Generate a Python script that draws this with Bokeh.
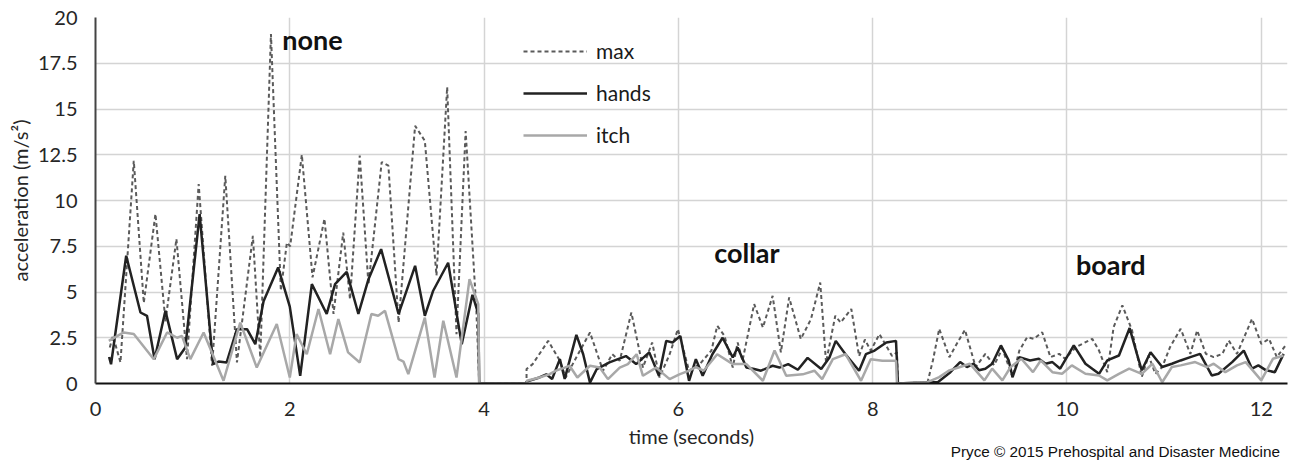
from bokeh.plotting import figure
from bokeh.models import Legend, LegendItem, FixedTicker, Label, Range1d, Div
from bokeh.layouts import column
from bokeh.embed import file_html
from bokeh.resources import INLINE

# ---- data ----
t_max = [0.147, 0.18, 0.257, 0.394, 0.497, 0.617, 0.72, 0.833, 0.942, 1.062, 1.2, 1.336, 1.456, 1.62, 1.696,
         1.806, 1.908, 1.97, 2.004, 2.124, 2.234, 2.357, 2.45, 2.55, 2.62, 2.72, 2.81, 2.946, 3.015, 3.12,
         3.29, 3.39, 3.51, 3.62, 3.716, 3.81, 3.92, 3.95, 4.437,
         4.437, 4.5, 4.66, 4.78, 4.84, 4.93, 5.09, 5.224, 5.32, 5.396, 5.516, 5.635, 5.73, 5.806, 5.91,
         5.995, 6.11, 6.22, 6.34, 6.4, 6.475, 6.56, 6.61, 6.66, 6.78, 6.87, 6.97, 7.055, 7.14, 7.26, 7.365,
         7.46, 7.52, 7.615, 7.67, 7.78, 7.86, 7.92, 7.98, 8.07, 8.2, 8.25, 8.26, 8.565,
         8.62, 8.685, 8.79, 8.856, 8.95, 9.06, 9.16, 9.25, 9.335, 9.44, 9.51, 9.59, 9.66, 9.745, 9.83,
         9.92, 9.98, 10.09, 10.16, 10.26, 10.33, 10.415, 10.48, 10.57, 10.67, 10.77, 10.84, 10.91, 10.98,
         11.06, 11.17, 11.27, 11.34, 11.43, 11.51, 11.6, 11.665, 11.75, 11.905, 12.0, 12.08, 12.16, 12.25]
v_max = [1.97, 2.6, 1.15, 12.17, 4.4, 9.26, 3.4, 7.9, 1.33, 10.9, 0.97, 11.35, 1.15, 8.07, 1.42,
         19.1, 5.07, 7.7, 7.5, 12.5, 5.8, 9.0, 3.8, 8.25, 4.6, 12.45, 5.4, 12.1, 11.9, 3.33,
         14.08, 13.26, 5.9, 16.2, 2.7, 13.8, 4.07, 0.0, 0.0,
         0.79, 1.06, 2.33, 1.24, 0.33, 1.24, 2.79, 0.7, 1.6, 1.24, 3.88, 0.87, 2.24, 0.33, 1.6,
         2.97, 0.7, 1.06, 1.8, 3.15, 2.6, 0.87, 2.24, 1.24, 4.34, 3.06, 4.79, 1.7, 4.7, 2.43, 3.52,
         5.52, 1.15, 3.7, 3.33, 4.07, 1.5, 2.4, 1.8, 2.7, 1.5, 1.7, 0.0, 0.07,
         1.26, 2.99, 1.44, 2.08, 2.93, 0.9, 1.62, 1.0, 1.9, 0.35, 1.8, 2.53, 2.44, 2.8, 1.44,
         1.62, 1.35, 1.98, 2.17, 2.44, 1.8, 0.62, 3.08, 4.27, 2.9, 0.35, 1.53, 0.53, 0.9,
         1.98, 2.99, 1.62, 2.9, 1.62, 1.44, 1.62, 2.35, 1.62, 3.53, 2.17, 2.44, 1.44, 2.08]

t_hands = [0.14, 0.16, 0.316, 0.463, 0.53, 0.608, 0.72, 0.84, 0.925, 1.072, 1.21, 1.267, 1.35, 1.456, 1.56,
           1.645, 1.73, 1.88, 2.0, 2.107, 2.227, 2.38, 2.466, 2.586, 2.706, 2.81, 2.94, 3.12, 3.29, 3.39,
           3.476, 3.63, 3.77, 3.88, 3.94, 3.95, 4.437,
           4.437, 4.57, 4.64, 4.70, 4.78, 4.83, 4.95, 5.02, 5.09, 5.16, 5.29, 5.46, 5.565, 5.70, 5.80,
           5.875, 5.94, 6.02, 6.11, 6.18, 6.25, 6.35, 6.455, 6.56, 6.61, 6.70, 6.78, 6.85, 6.97, 7.04,
           7.13, 7.23, 7.33, 7.47, 7.555, 7.62, 7.72, 7.86, 7.93, 8.02, 8.14, 8.24, 8.26, 8.565,
           8.67, 8.80, 8.90, 8.97, 9.04, 9.095, 9.16, 9.23, 9.32, 9.40, 9.44, 9.51, 9.62, 9.71, 9.78,
           9.85, 9.93, 10.07, 10.19, 10.33, 10.415, 10.535, 10.645, 10.72, 10.77, 10.86, 10.98, 11.08,
           11.17, 11.27, 11.37, 11.49, 11.56, 11.7, 11.82, 11.905, 11.97, 12.05, 12.14, 12.23]
v_hands = [1.45, 1.05, 6.98, 3.88, 3.7, 1.33, 3.97, 1.33, 1.97, 9.26, 1.06, 1.2, 1.15, 2.97, 2.97,
           2.15, 4.5, 6.34, 4.2, 0.42, 5.43, 3.8, 5.43, 6.1, 3.8, 5.7, 7.34, 3.8, 6.43, 3.7,
           5.07, 6.6, 2.15, 4.85, 3.8, 0.0, 0.0,
           0.1, 0.33, 0.5, 0.25, 1.33, 0.25, 2.66, 1.6, 0.05, 0.79, 1.15, 1.5, 1.06, 1.7, 0.42,
           2.33, 2.24, 2.6, 0.15, 1.33, 0.42, 1.6, 2.5, 1.42, 1.97, 0.87, 0.79, 0.7, 0.97, 0.87,
           1.06, 0.75, 1.4, 0.79, 1.42, 2.33, 1.6, 0.7, 1.6, 1.8, 2.24, 2.33, 0.0, 0.07,
           0.07, 0.62, 1.17, 0.9, 1.08, 0.72, 0.81, 1.08, 2.08, 1.26, 0.35, 1.44, 1.26, 1.35, 1.08,
           1.17, 0.81, 2.08, 1.08, 0.53, 1.26, 1.53, 3.03, 1.62, 0.72, 1.71, 0.9, 1.08,
           1.26, 1.44, 1.62, 0.44, 0.53, 1.17, 1.8, 0.81, 0.99, 0.72, 0.62, 1.62]

t_itch = [0.137, 0.29, 0.394, 0.6, 0.737, 0.84, 0.89, 0.976, 1.113, 1.318, 1.49, 1.66, 1.866, 2.0, 2.07,
          2.175, 2.295, 2.415, 2.5, 2.6, 2.72, 2.84, 2.91, 2.98, 3.12, 3.17, 3.22, 3.39, 3.49, 3.58,
          3.716, 3.85, 3.94, 3.95, 4.44,
          4.44, 4.57, 4.67, 4.74, 4.83, 4.88, 4.96, 5.09, 5.19, 5.275, 5.396, 5.48, 5.57, 5.635, 5.77,
          5.91, 6.01, 6.11, 6.18, 6.26, 6.4, 6.56, 6.70, 6.87, 6.99, 7.11, 7.28, 7.40, 7.48, 7.59,
          7.72, 7.88, 7.98, 8.1, 8.24, 8.25, 8.565,
          8.685, 8.79, 8.90, 9.0, 9.06, 9.15, 9.23, 9.335, 9.42, 9.53, 9.65, 9.73, 9.85, 9.95, 10.05,
          10.19, 10.33, 10.415, 10.535, 10.64, 10.77, 10.88, 10.98, 11.08, 11.17, 11.32, 11.44, 11.51,
          11.63, 11.75, 11.84, 12.0, 12.12, 12.23]
v_itch = [2.33, 2.79, 2.7, 1.33, 2.79, 2.5, 2.6, 1.33, 2.79, 0.15, 3.33, 0.87, 3.25, 0.33, 2.7,
          1.6, 4.07, 1.6, 3.52, 1.7, 1.15, 3.8, 3.7, 3.97, 1.33, 1.2, 0.51, 3.6, 0.33, 3.43,
          0.33, 5.7, 4.34, 0.0, 0.0,
          0.15, 0.33, 0.5, 0.7, 0.87, 0.97, 0.33, 0.97, 0.87, 0.24, 0.87, 1.06, 1.6, 0.42, 0.87,
          0.24, 0.5, 0.7, 0.9, 0.7, 1.6, 1.06, 1.06, 0.15, 1.8, 0.42, 0.5, 0.7, 0.24, 1.33,
          1.6, 0.15, 1.33, 1.24, 1.24, 0.0, 0.07,
          0.35, 0.72, 0.9, 1.08, 0.72, 0.17, 0.81, 0.17, 0.9, 1.35, 0.62, 1.26, 0.62, 0.53, 0.99,
          0.53, 0.44, 0.17, 0.53, 0.81, 0.53, 1.08, 0.07, 0.9, 0.99, 1.17, 0.9, 1.08,
          0.62, 0.99, 1.17, 0.17, 1.35, 1.53]

x_ticks = [0, 2, 4, 6, 8, 10, 12]
y_ticks = [0, 2.5, 5, 7.5, 10, 12.5, 15, 17.5, 20]
y_tick_labels = ["0", "2.5", "5", "7.5", "10", "12.5", "15", "17.5", "20"]

phase_names = ["none", "collar", "board"]
phase_x = [2.234, 6.705, 10.45]
phase_y = [18.78, 7.17, 6.5]

FONT = "Lato"

p = figure(width=1297, height=465, x_range=Range1d(0, 12.27), y_range=Range1d(0, 20),
           output_backend="svg", toolbar_location=None,
           min_border_left=95, min_border_right=10, min_border_top=17, min_border_bottom=82)
p.outline_line_color = None
p.background_fill_color = "white"

# grids
p.xgrid.ticker = FixedTicker(ticks=x_ticks)
p.ygrid.ticker = FixedTicker(ticks=y_ticks)
for g in (p.xgrid, p.ygrid):
    g.grid_line_color = "#d4d4d4"
    g.grid_line_width = 1.5

# axes
xa = p.xaxis[0]
xa.ticker = FixedTicker(ticks=x_ticks)
xa.axis_label = "time (seconds)"
ya = p.yaxis[0]
ya.ticker = FixedTicker(ticks=y_ticks)
ya.major_label_overrides = {k: v for k, v in zip(y_ticks, y_tick_labels)}
ya.axis_label = "acceleration (m/s²)"
for ax in (xa, ya):
    ax.major_tick_line_color = None
    ax.minor_tick_line_color = None
    ax.major_label_text_font = FONT
    ax.major_label_text_color = "#262626"
    ax.major_label_text_font_size = "20px"
    ax.axis_label_text_font = FONT
    ax.axis_label_text_font_size = "20px"
    ax.axis_label_text_font_style = "normal"
    ax.axis_label_text_color = "#262626"
    ax.axis_line_width = 2
xa.axis_line_color = "#111111"
ya.axis_line_color = "#444444"
xa.major_label_standoff = 12
xa.axis_label_standoff = 5
ya.major_label_standoff = 12
ya.axis_label_standoff = 3

# series
r_max = p.line(t_max, v_max, line_color="#5a5a5a", line_width=2, line_dash="4 3")
r_hands = p.line(t_hands, v_hands, line_color="#222222", line_width=2.5)
r_itch = p.line(t_itch, v_itch, line_color="#a8a8a8", line_width=2.5)

# phase labels
for name, x, y in zip(phase_names, phase_x, phase_y):
    p.add_layout(Label(x=x, y=y, text=name, text_font=FONT, text_font_size="27px",
                       text_font_style="bold", text_align="center", text_baseline="middle",
                       text_color="#111111"))

legend = Legend(items=[LegendItem(label="max", renderers=[r_max]),
                       LegendItem(label="hands", renderers=[r_hands]),
                       LegendItem(label="itch", renderers=[r_itch])],
                location=(428, 236), orientation="vertical",
                padding=0, margin=0, spacing=17,
                glyph_width=64, glyph_height=24, label_height=24, label_standoff=9,
                label_text_font=FONT, label_text_font_size="21px", label_text_color="#1a1a1a",
                background_fill_alpha=0, border_line_alpha=0)
p.add_layout(legend)

credit = Div(text="Pryce © 2015 Prehospital and Disaster Medicine", width=1280,
             margin=(-21, 0, 0, 0),
             styles={"text-align": "right", "font-family": "Liberation Sans, Arial, sans-serif",
                     "font-size": "15.3px", "line-height": "16px", "color": "#111111"})

layout = column(p, credit, spacing=0)

open("out.html", "w").write(file_html(layout, INLINE))
